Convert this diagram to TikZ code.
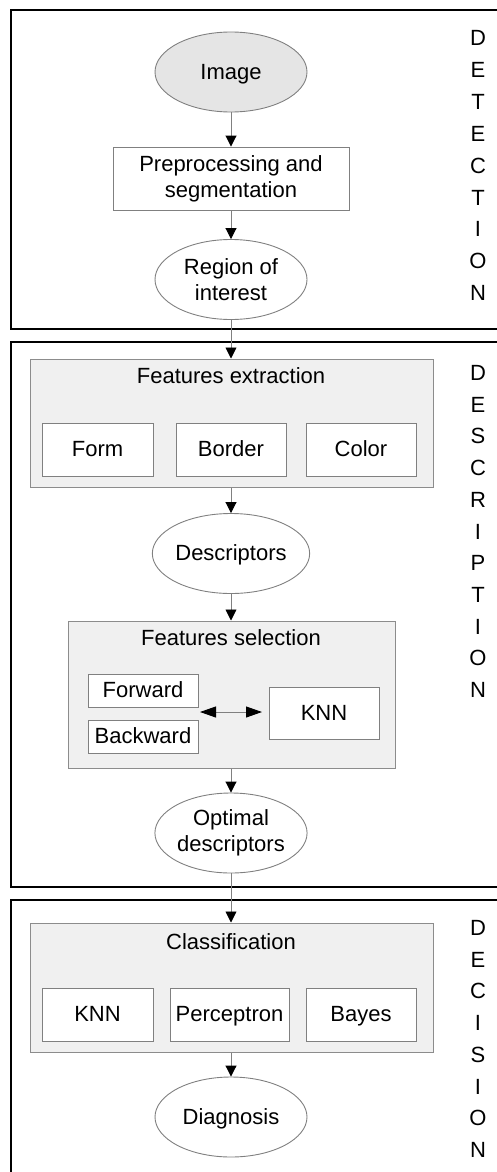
\documentclass[tikz,border=0pt]{standalone}
\usepackage{fontspec}
\setmainfont{Liberation Sans}
\usetikzlibrary{shapes.geometric,arrows.meta}
\begin{document}
\begin{tikzpicture}[x=1pt,y=-1pt,
  every node/.style={font=\fontsize{22}{26}\selectfont, align=center, inner sep=0pt},
  ell/.style={ellipse, draw=black!50, line width=0.9pt, minimum width=152pt, minimum height=80pt},
  box/.style={draw=black!50, line width=0.9pt, fill=white},
  one/.style={text height=16pt, text depth=2pt},
  panel/.style={draw=black!45, line width=1pt, fill=black!6},
  frame/.style={draw=black, line width=2.5pt},
  arr/.style={draw=black!50, line width=0.9pt, -{Triangle[length=11pt,width=11pt,black]}},
  darr/.style={draw=black!50, line width=0.9pt, {Triangle[length=16pt,width=11pt,black]}-{Triangle[length=16pt,width=11pt,black]}},
  side/.style={font=\fontsize{22}{26}\selectfont}]
\useasboundingbox (0,0) rectangle (496,1172);

% frames
\draw[frame] (520,10) -- (11,10) -- (11,329) -- (520,329);
\draw[frame] (520,342) -- (11,342) -- (11,887) -- (520,887);
\draw[frame] (520,900) -- (11,900) -- (11,1190);

% detection
\node[ell, one, fill=black!10] (img) at (231,72) {Image};
\node[box, minimum width=236pt, minimum height=63pt] (pre) at (231,178.5) {Preprocessing and\\segmentation};
\node[ell, fill=white] (roi) at (231,279.5) {Region of\\interest};

% description
\node[panel, minimum width=403pt, minimum height=128pt] (fe) at (231.5,423) {};
\node[one] (fet) at (231,376) {Features extraction};
\node[box, one, minimum width=111pt, minimum height=53pt] (form) at (97.5,449.5) {Form};
\node[box, one, minimum width=110pt, minimum height=53pt] (border) at (231,449.5) {Border};
\node[box, one, minimum width=110pt, minimum height=53pt] (color) at (361,449.5) {Color};
\node[ell, one, fill=white] (desc) at (231,553.5) {Descriptors};

\node[panel, minimum width=327pt, minimum height=147pt] (fs) at (231.5,694.5) {};
\node[one] (fst) at (231,638) {Features selection};
\node[box, one, minimum width=110pt, minimum height=33pt] (fwd) at (143,690.5) {Forward};
\node[box, one, minimum width=110pt, minimum height=33pt] (bwd) at (143,736.5) {Backward};
\node[box, one, minimum width=110pt, minimum height=52pt] (knn) at (324,713) {KNN};
\coordinate (dl) at (200,712);
\coordinate (dr) at (262,712);
\node[ell, fill=white] (opt) at (231,833) {Optimal\\descriptors};

% decision
\node[panel, minimum width=403pt, minimum height=129pt] (cl) at (231.5,987.5) {};
\node[one] (clt) at (231,942) {Classification};
\node[box, one, minimum width=111pt, minimum height=53pt] (knn2) at (97.5,1014.5) {KNN};
\node[box, one, minimum width=119pt, minimum height=53pt] (perc) at (229.5,1014.5) {Perceptron};
\node[box, one, minimum width=110pt, minimum height=53pt] (bay) at (361,1014.5) {Bayes};
\node[ell, one, fill=white] (diag) at (231,1117) {Diagnosis};

% connectors
\draw[arr] (img) -- (pre);
\draw[arr] (pre) -- (roi);
\draw[arr] (roi) -- (fe.north -| roi);
\draw[arr] (fe.south -| desc) -- (desc);
\draw[arr] (desc) -- (fs.north -| desc);
\draw[darr] (dl) -- (dr);
\draw[arr] (fs.south -| opt) -- (opt);
\draw[arr] (opt) -- (cl.north -| opt);
\draw[arr] (cl.south -| diag) -- (diag);

% side labels
\foreach \l [count=\i] in {D,E,T,E,C,T,I,O,N}
  \node[side] (sa\i) at (478,{38+31.9*(\i-1)}) {\l};
\foreach \l [count=\i] in {D,E,S,C,R,I,P,T,I,O,N}
  \node[side] (sb\i) at (478,{373+31.7*(\i-1)}) {\l};
\foreach \l [count=\i] in {D,E,C,I,S,I,O,N}
  \node[side] (sc\i) at (478,{928+31.7*(\i-1)}) {\l};
\end{tikzpicture}
\end{document}
